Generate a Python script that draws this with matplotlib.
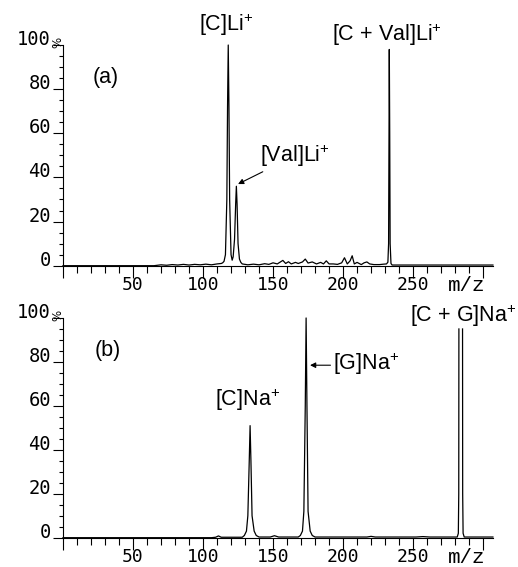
import numpy as np
import matplotlib
matplotlib.use('Agg')
import matplotlib.pyplot as plt
from matplotlib.ticker import MultipleLocator

plt.rcParams['mathtext.fontset'] = 'custom'
plt.rcParams['mathtext.rm'] = 'Liberation Sans'
plt.rcParams['mathtext.it'] = 'Liberation Sans:italic'

## espectro (a): m/z e intensidad (%)
mz_a = [0, 65, 70, 74, 78, 82, 86, 90, 94, 98, 102, 106, 110, 113, 114, 115, 116,
        117, 117.5, 118, 118.5, 119, 120, 120.8, 121.5, 122.5, 123.3, 123.8, 124.3,
        125, 126, 127, 128, 132, 136, 140, 144, 147, 150, 153, 155, 157, 159, 161,
        163, 166, 168, 171, 173, 175, 178, 181, 184, 186, 188, 190, 193, 196, 199,
        201, 203, 205, 206.5, 208, 210, 213, 215, 217, 219, 222, 226, 229, 231, 232,
        232.5, 232.8, 233, 233.3, 233.6, 234.2, 235, 307]
int_a = [0, 0, 0.4, 0.2, 0.5, 0.3, 0.6, 0.3, 0.6, 0.4, 0.7, 0.4, 0.8, 1.0, 1.3, 2.0, 5,
         30, 72, 100, 72, 30, 5, 2.5, 4, 12, 28, 36, 28,
         10, 3, 1.5, 0.8, 0.4, 0.7, 0.4, 0.9, 0.6, 1.3, 0.8, 1.6, 2.4, 1.0, 1.8,
         0.8, 1.5, 1.0, 1.7, 3.0, 1.2, 1.7, 0.8, 1.5, 0.8, 2.2, 0.8, 0.8, 0.6, 1.3,
         3.6, 0.8, 2.2, 4.5, 0.8, 1.5, 0.5, 1.3, 1.7, 0.8, 0.5, 0.5, 0.7, 0.8, 1.6,
         10, 60, 98, 60, 10, 1.0, 0.3, 0.3]

## espectro (b)
mz_b = [0, 106, 109, 111, 113, 128, 129.5, 131, 132, 133, 133.6, 134.2, 135, 136.5,
        138, 140, 148, 151, 154, 168, 169.5, 171, 172, 173, 173.6, 174.2, 175, 176.5,
        178, 180, 217, 220, 223, 252, 257, 262, 281.5, 282.3, 282.6, 282.7,
        np.nan, 285.3, 285.4, 285.7, 286.5, 307]
int_b = [0, 0, 0.2, 0.8, 0.2, 0.2, 1, 3, 10, 35, 51, 35, 10, 3,
         1, 0.3, 0.3, 0.9, 0.3, 0.3, 1, 3, 12, 60, 100, 60, 12, 3,
         1, 0.3, 0.3, 0.6, 0.3, 0.3, 0.5, 0.3, 0.3, 2, 20, 95,
         np.nan, 95, 20, 2, 0.3, 0.3]

yticks = [0, 20, 40, 60, 80, 100]
ytick_labels = ['0', '20', '40', '60', '80', '100']
xticks = [0, 50, 100, 150, 200, 250, 300]
xtick_labels = ['', '50', '100', '150', '200', '250', '']

fig = plt.figure(figsize=(5.18, 5.67), dpi=100)
ax_a = fig.add_axes([0.1216, 0.5314, 0.830, 0.3892])
ax_b = fig.add_axes([0.1216, 0.0517, 0.830, 0.3875])

num_font = dict(family='DejaVu Sans Mono', size=13.5)
xnum_font = dict(family='DejaVu Sans Mono', size=13)
lab_font = dict(family='Liberation Sans', size=15.5)


def ejes(ax, mz, inten):
	ax.plot(mz, inten, color='black', lw=0.9, clip_on=False)
	ax.set_xlim(0, 307)
	ax.set_ylim(0, 100)
	for s in ['top', 'right']:
		ax.spines[s].set_visible(False)
	for s in ['left', 'bottom']:
		ax.spines[s].set_linewidth(0.8)
	ax.set_xticks(xticks)
	ax.set_xticklabels(xtick_labels, fontdict=xnum_font)
	ax.xaxis.set_minor_locator(MultipleLocator(10))
	ax.set_yticks(yticks)
	ax.set_yticklabels(ytick_labels, fontdict=num_font)
	ax.yaxis.set_minor_locator(MultipleLocator(5))
	ax.tick_params(axis='x', which='major', length=8.5, width=0.8, pad=-1.0)
	ax.tick_params(axis='x', which='minor', length=4.8, width=0.8)
	ax.tick_params(axis='y', which='major', length=7.2, width=0.8, pad=1.5)
	ax.tick_params(axis='y', which='minor', length=3.0, width=0.8)
	for lbl in ax.get_yticklabels():
		lbl.set_va('baseline')
	ax.annotate('%', xy=(0, 100), xycoords=('axes fraction', 'data'),
		xytext=(-3.5, -2), textcoords='offset points', ha='center', va='bottom',
		fontsize=8.5, rotation=90, family='DejaVu Sans')
	ax.annotate('m/z', xy=(288, 0), xycoords=('data', 'axes fraction'),
		xytext=(0, -14), textcoords='offset points', ha='center', va='center',
		family='Liberation Mono', size=15)


ejes(ax_a, mz_a, int_a)
ejes(ax_b, mz_b, int_b)

ax_a.text(30.7, 85.4, '(a)', ha='center', va='center', **lab_font)
ax_a.text(116.4, 109, '[C]Li$^{+}$', ha='center', va='center', **lab_font)
ax_a.text(231.4, 104.5, '[C + Val]Li$^{+}$', ha='center', va='center', **lab_font)
ax_a.annotate('[Val]Li$^{+}$', xy=(125, 37), xytext=(140.7, 47),
	ha='left', va='baseline', **lab_font,
	arrowprops=dict(arrowstyle='-|>', color='black', lw=0.8, shrinkA=0, shrinkB=0,
		mutation_scale=8))

ax_b.text(32, 85, '(b)', ha='center', va='center', **lab_font)
ax_b.text(132, 62.6, '[C]Na$^{+}$', ha='center', va='center', **lab_font)
ax_b.text(285.7, 100.9, '[C + G]Na$^{+}$', ha='center', va='center', **lab_font)
ax_b.annotate('', xy=(176.4, 78.5), xytext=(191, 78.5),
	arrowprops=dict(arrowstyle='-|>', color='black', lw=0.8, shrinkA=0, shrinkB=0,
		mutation_scale=8))
ax_b.text(192.5, 79.3, '[G]Na$^{+}$', ha='left', va='center', **lab_font)

fig.savefig('out.png', dpi=100)
